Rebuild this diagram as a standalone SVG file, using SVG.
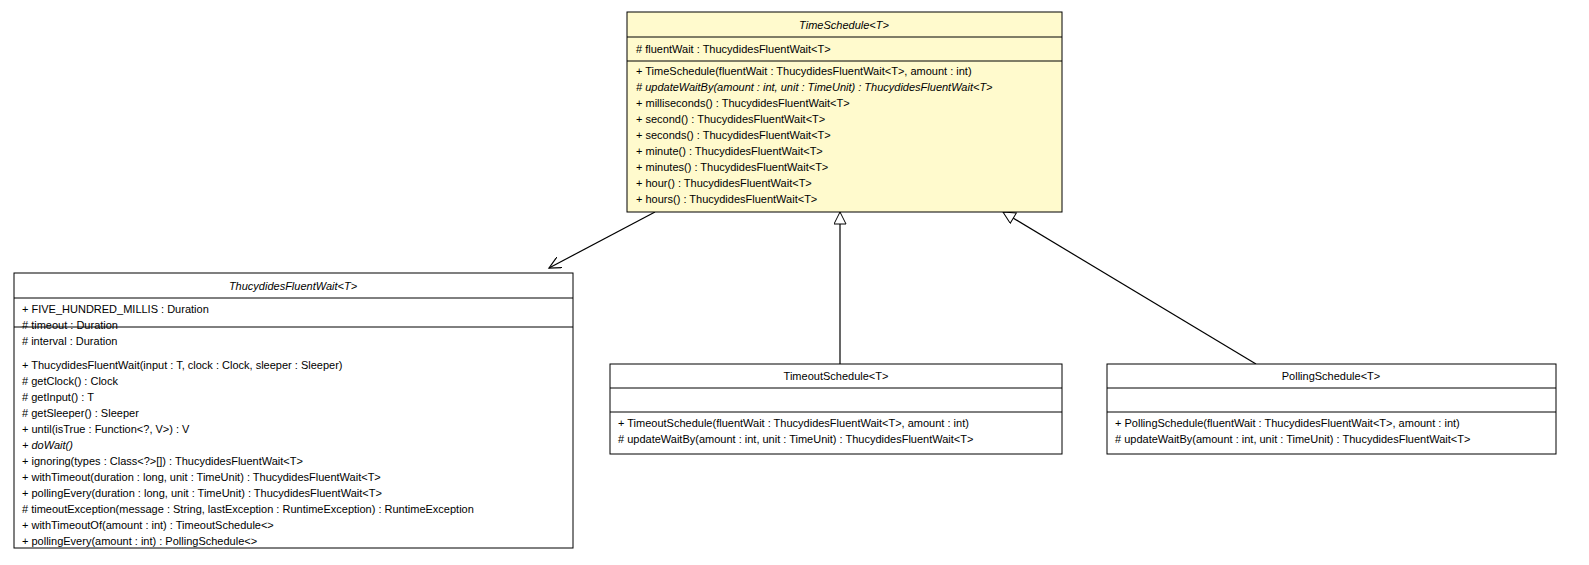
<svg xmlns="http://www.w3.org/2000/svg" width="1589" height="565" viewBox="0 0 1589 565">
<style>
text{font-family:"Liberation Sans",Arial,sans-serif;font-size:11px;fill:#000}
.t{text-anchor:middle}
.i{font-style:italic}
.box{fill:#fff;stroke:#000;stroke-width:1}
.y{fill:#fffacd}
line{stroke:#000;stroke-width:1}
.c{stroke:#000;fill:none;stroke-width:1.2}
</style>
<defs>
<marker id="open" markerWidth="14" markerHeight="12" refX="12" refY="6" orient="auto" markerUnits="userSpaceOnUse"><path d="M0,0 L12,6 L0,12" fill="none" stroke="#000" stroke-width="1.2"/></marker>
<marker id="tri" markerWidth="14" markerHeight="14" refX="13" refY="6" orient="auto" markerUnits="userSpaceOnUse"><path d="M1,0 L13,6 L1,12 Z" fill="#fff" stroke="#000" stroke-width="1"/></marker>
</defs>
<g id="connectors">
<path class="c" d="M655,212 L549,268" marker-end="url(#open)"/>
<path class="c" d="M840,364 L840,212" marker-end="url(#tri)"/>
<path class="c" d="M1256,364 L1003,212" marker-end="url(#tri)"/>
</g>
<g id="TimeSchedule">
<rect class="box y" x="627" y="12" width="435" height="200"/>
<line x1="627" y1="37" x2="1062" y2="37"/><line x1="627" y1="61" x2="1062" y2="61"/>
<text class="t i" x="844" y="29">TimeSchedule&lt;T&gt;</text>
<text x="636" y="53"># fluentWait : ThucydidesFluentWait&lt;T&gt;</text>
<text x="636" y="75">+ TimeSchedule(fluentWait : ThucydidesFluentWait&lt;T&gt;, amount : int)</text>
<text class="i" x="636" y="91"># updateWaitBy(amount : int, unit : TimeUnit) : ThucydidesFluentWait&lt;T&gt;</text>
<text x="636" y="107">+ milliseconds() : ThucydidesFluentWait&lt;T&gt;</text>
<text x="636" y="123">+ second() : ThucydidesFluentWait&lt;T&gt;</text>
<text x="636" y="139">+ seconds() : ThucydidesFluentWait&lt;T&gt;</text>
<text x="636" y="155">+ minute() : ThucydidesFluentWait&lt;T&gt;</text>
<text x="636" y="171">+ minutes() : ThucydidesFluentWait&lt;T&gt;</text>
<text x="636" y="187">+ hour() : ThucydidesFluentWait&lt;T&gt;</text>
<text x="636" y="203">+ hours() : ThucydidesFluentWait&lt;T&gt;</text>
</g>
<g id="ThucydidesFluentWait">
<rect class="box" x="14" y="273" width="559" height="275"/>
<line x1="14" y1="298" x2="573" y2="298"/><line x1="14" y1="327" x2="573" y2="327"/>
<text class="t i" x="293" y="290">ThucydidesFluentWait&lt;T&gt;</text>
<text x="22" y="313">+ FIVE_HUNDRED_MILLIS : Duration</text>
<text x="22" y="329"># timeout : Duration</text>
<text x="22" y="345"># interval : Duration</text>
<text x="22" y="369">+ ThucydidesFluentWait(input : T, clock : Clock, sleeper : Sleeper)</text>
<text x="22" y="385"># getClock() : Clock</text>
<text x="22" y="401"># getInput() : T</text>
<text x="22" y="417"># getSleeper() : Sleeper</text>
<text x="22" y="433">+ until(isTrue : Function&lt;?, V&gt;) : V</text>
<text class="i" x="22" y="449">+ doWait()</text>
<text x="22" y="465">+ ignoring(types : Class&lt;?&gt;[]) : ThucydidesFluentWait&lt;T&gt;</text>
<text x="22" y="481">+ withTimeout(duration : long, unit : TimeUnit) : ThucydidesFluentWait&lt;T&gt;</text>
<text x="22" y="497">+ pollingEvery(duration : long, unit : TimeUnit) : ThucydidesFluentWait&lt;T&gt;</text>
<text x="22" y="513"># timeoutException(message : String, lastException : RuntimeException) : RuntimeException</text>
<text x="22" y="529">+ withTimeoutOf(amount : int) : TimeoutSchedule&lt;&gt;</text>
<text x="22" y="545">+ pollingEvery(amount : int) : PollingSchedule&lt;&gt;</text>
</g>
<g id="TimeoutSchedule">
<rect class="box" x="610" y="364" width="452" height="90"/>
<line x1="610" y1="388" x2="1062" y2="388"/><line x1="610" y1="412" x2="1062" y2="412"/>
<text class="t" x="836" y="380">TimeoutSchedule&lt;T&gt;</text>
<text x="618" y="427">+ TimeoutSchedule(fluentWait : ThucydidesFluentWait&lt;T&gt;, amount : int)</text>
<text x="618" y="443"># updateWaitBy(amount : int, unit : TimeUnit) : ThucydidesFluentWait&lt;T&gt;</text>
</g>
<g id="PollingSchedule">
<rect class="box" x="1107" y="364" width="449" height="90"/>
<line x1="1107" y1="388" x2="1556" y2="388"/><line x1="1107" y1="412" x2="1556" y2="412"/>
<text class="t" x="1331" y="380">PollingSchedule&lt;T&gt;</text>
<text x="1115" y="427">+ PollingSchedule(fluentWait : ThucydidesFluentWait&lt;T&gt;, amount : int)</text>
<text x="1115" y="443"># updateWaitBy(amount : int, unit : TimeUnit) : ThucydidesFluentWait&lt;T&gt;</text>
</g>
</svg>
